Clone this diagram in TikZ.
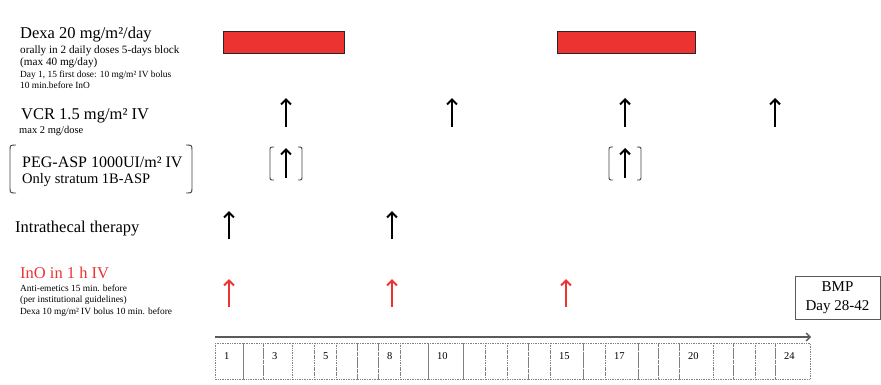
\documentclass[tikz,border=0pt]{standalone}
\usepackage{fontspec}
\setmainfont{Liberation Serif}
\usetikzlibrary{arrows.meta}
\definecolor{doseRed}{RGB}{237,50,50}
\definecolor{axisGray}{RGB}{90,90,90}
\begin{document}
\begin{tikzpicture}[x=1pt,y=-1pt,
  txt/.style={inner sep=0pt,anchor=base west},
  bigtxt/.style={txt,font=\fontsize{16.5}{19}\selectfont},
  midtxt/.style={txt,font=\fontsize{11.2}{13}\selectfont},
  smalltxt/.style={txt,font=\fontsize{9.4}{11}\selectfont},
  blockbar/.style={fill=doseRed,draw=black!85,line width=0.9pt},
  dose/.style={line width=2.1pt,-{Straight Barb[length=5pt,width=10pt]}},
  reddose/.style={dose,doseRed},
  optbracket/.style={draw=black!75,line width=0.9pt},
  daycell/.style={draw=gray,densely dotted,line width=0.7pt},
  daynum/.style={inner sep=0pt,anchor=base west,font=\fontsize{10.5}{12}\selectfont}]
\useasboundingbox (0,0) rectangle (881,384);

% ---- drug labels ----
\node[bigtxt]   (dexa)  at (20,38)  {Dexa 20 mg/m²/day};
\node[midtxt]   (dexa1) at (20,53)  {orally in 2 daily doses 5-days block};
\node[midtxt]   (dexa2) at (20,65)  {(max 40 mg/day)};
\node[smalltxt] (dexa3) at (20,77)  {Day 1, 15 first dose: 10 mg/m² IV bolus};
\node[smalltxt] (dexa4) at (20,88)  {10 min.before InO};

\node[bigtxt]   (vcr)   at (21,119) {VCR 1.5 mg/m² IV};
\node[txt,font=\fontsize{10.5}{12}\selectfont] (vcr1) at (19,133) {max 2 mg/dose};

\node[txt,font=\fontsize{16}{19}\selectfont] (peg) at (22,167) {PEG-ASP 1000UI/m² IV};
\node[txt,font=\fontsize{14.5}{17}\selectfont] (peg1) at (22,183) {Only stratum 1B-ASP};
\draw[optbracket] (16,145) .. controls (10,145) .. (10,151) -- (10,187) .. controls (10,193) .. (16,193);
\draw[optbracket] (186,145) .. controls (192,145) .. (192,151) -- (192,187) .. controls (192,193) .. (186,193);

\node[bigtxt]   (it)    at (15,232) {Intrathecal therapy};

\node[bigtxt,text=doseRed] (ino) at (20,278) {InO in 1 h IV};
\node[smalltxt] (ino1)  at (20,291) {Anti-emetics 15 min. before};
\node[smalltxt] (ino2)  at (20,302) {(per institutional guidelines)};
\node[smalltxt] (ino3)  at (20,314) {Dexa 10 mg/m² IV bolus 10 min. before};

% ---- dexamethasone blocks ----
\draw[blockbar] (223,31) rectangle (344,53);
\draw[blockbar] (557,31) rectangle (695,53);

% ---- vincristine ----
\foreach \x in {286,452,625,775}
  \draw[dose] (\x,127) -- (\x,98);

% ---- optional PEG-asparaginase ----
\foreach \x in {286,625}{
  \draw[dose] (\x,178) -- (\x,148);
  \draw[optbracket] (\x-12,147) .. controls (\x-16,147) .. (\x-16,151) -- (\x-16,176) .. controls (\x-16,180) .. (\x-12,180);
  \draw[optbracket] (\x+12,147) .. controls (\x+16,147) .. (\x+16,151) -- (\x+16,176) .. controls (\x+16,180) .. (\x+12,180);
}

% ---- intrathecal ----
\foreach \x in {229,392}
  \draw[dose] (\x,239) -- (\x,211);

% ---- inotuzumab ----
\foreach \x in {229,392,566}
  \draw[reddose] (\x,307) -- (\x,279);

% ---- bone marrow puncture ----
\node[draw=axisGray,line width=0.9pt,minimum width=85pt,minimum height=43pt,
      align=center,inner sep=0pt,font=\fontsize{15}{19}\selectfont]
      (bmp) at (837.5,297.5) {BMP\\Day 28-42};

% ---- time axis ----
\coordinate (axstart) at (215,337);
\coordinate (axend) at (811,337);
\draw[axisGray,line width=1.3pt,-{Straight Barb[length=4pt,width=8pt]}] (axstart) -- (axend);

% ---- day grid ----
\foreach \a/\b/\d in {215/243/1,243/263/,263/292/3,292/314/,314/336/5,336/357/,
    357/378/,378/400/8,400/428/,428/463/10,463/485/,485/507/,507/528/,528/550/,
    550/583/15,583/605/,605/638/17,638/658/,658/679/,679/713/20,713/733/,
    733/755/,755/775/,775/810/24}{
  \draw[daycell] (\a,343) rectangle (\b,379);
  \node[daynum] (day\a) at (\a+9,359) {\d};
}
\end{tikzpicture}
\end{document}
